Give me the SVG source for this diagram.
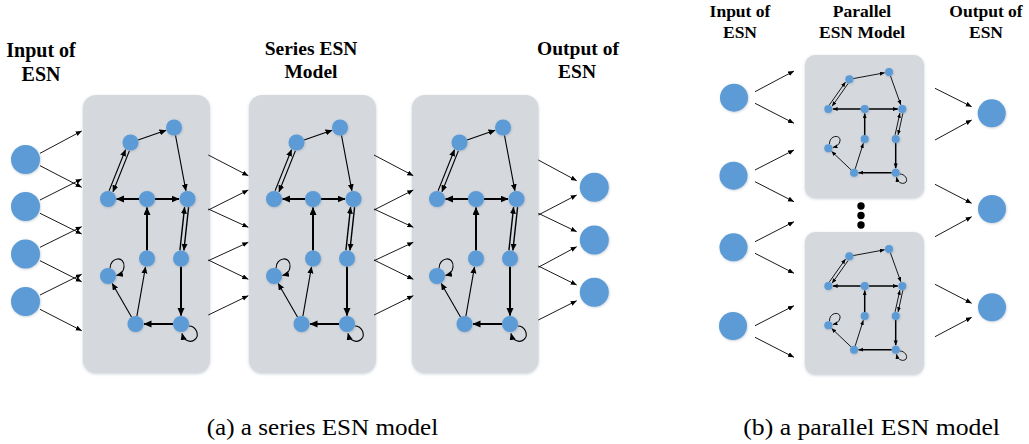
<svg xmlns="http://www.w3.org/2000/svg" width="1029" height="444" viewBox="0 0 1029 444">
<style>
.box{fill:#d5d9de;filter:url(#bs)}
.n circle{fill:#5b9bd5;filter:url(#ns)}
.io{fill:#5b9bd5;filter:url(#ns)}
.th{stroke:#000;stroke-width:1.1;fill:none;marker-end:url(#at)}
.tk{stroke:#000;stroke-width:2;fill:none;marker-end:url(#ak)}
.md{stroke:#000;stroke-width:1.4;fill:none;marker-end:url(#at)}
.pth{stroke:#000;stroke-width:0.9;fill:none;marker-end:url(#ap)}
.ptk{stroke:#000;stroke-width:1.5;fill:none;marker-end:url(#ap)}
.lk{stroke:#000;stroke-width:0.9;fill:none;marker-end:url(#al)}
.hd{font-weight:bold;text-anchor:middle;fill:#000}
.cap{font-size:22.5px;fill:#000}
</style>
<defs>
<filter id="bs" x="-10%" y="-10%" width="120%" height="120%"><feDropShadow dx="0" dy="1" stdDeviation="1.5" flood-color="#8e9bb0" flood-opacity="0.45"/></filter>
<filter id="ns" x="-40%" y="-40%" width="180%" height="180%"><feDropShadow dx="0.6" dy="0.8" stdDeviation="0.8" flood-color="#6d7f95" flood-opacity="0.4"/></filter>
<marker id="at" markerUnits="userSpaceOnUse" markerWidth="8" markerHeight="7" refX="6.5" refY="3" orient="auto"><path d="M0,0 L7,3 L0,6 z" fill="#000"/></marker>
<marker id="ak" markerUnits="userSpaceOnUse" markerWidth="9" markerHeight="8" refX="7.5" refY="3.5" orient="auto"><path d="M0,0 L8,3.5 L0,7 z" fill="#000"/></marker>
<marker id="ap" markerUnits="userSpaceOnUse" markerWidth="6" markerHeight="5" refX="4.8" refY="2" orient="auto"><path d="M0,0 L5,2 L0,4 z" fill="#000"/></marker>
<marker id="al" markerUnits="userSpaceOnUse" markerWidth="7" markerHeight="6" refX="6" refY="2.5" orient="auto"><path d="M0,0 L6,2.5 L0,5 z" fill="#000"/></marker>
</defs>
<rect width="1029" height="444" fill="#fff"/>

<!-- headings -->
<g id="headings" font-family="Liberation Serif, Times New Roman, DejaVu Serif, serif">
<text class="hd" font-size="20" x="41" y="57">Input of</text>
<text class="hd" font-size="20" x="41" y="80.5">ESN</text>
<text class="hd" font-size="19.5" x="311" y="55">Series ESN</text>
<text class="hd" font-size="19.5" x="311" y="78.3">Model</text>
<text class="hd" font-size="19.5" x="578" y="55">Output of</text>
<text class="hd" font-size="19.5" x="577" y="78.3">ESN</text>
<text class="hd" font-size="17.5" x="740" y="16.7">Input of</text>
<text class="hd" font-size="17.5" x="740" y="37.5">ESN</text>
<text class="hd" font-size="17.5" x="862" y="16.7">Parallel</text>
<text class="hd" font-size="17.5" x="862" y="37.5">ESN Model</text>
<text class="hd" font-size="17.5" x="986" y="16.7">Output of</text>
<text class="hd" font-size="17.5" x="986" y="37.5">ESN</text>
</g>

<!-- series reservoirs -->
<g id="series-res-1" transform="translate(83,95)">
<rect class="box" width="127" height="278" rx="13"/>
<g id="s1-connectors">
<path class="th" d="M55.1,44.9 L83,35.3"/><path class="th" d="M92.5,40.4 L102.9,95.7"/>
<path class="th" d="M26.1,95.8 L42.5,54.7"/><path class="th" d="M46.4,55.7 L30,96.8"/>
<path class="tk" d="M56,104 L33.5,104"/><path class="tk" d="M72,104 L96,104"/>
<path class="tk" d="M64,155.5 L64,112.5"/>
<path class="md" d="M96.9,155.3 L101.6,112.2"/><path class="md" d="M105.6,112.2 L100.9,155.3"/>
<path class="tk" d="M98,171.5 L98,220.5"/><path class="tk" d="M90,229 L61,229"/>
<path class="th" d="M48.5,222.1 L29.2,188.4"/><path class="th" d="M53.9,221.1 L62.5,171.9"/>
<path class="th" d="M27,173.5 C27,162 42,160 41,172 C40.5,177 37.5,179.5 33.5,180.5"/>
<path class="th" d="M105.8,231 C113,231 117,240 112,244.5 C108,248 101,246.5 99,238.5"/>
</g>
<g id="s1-A" class="n"><circle cx="47.5" cy="47.5" r="8"/></g>
<g id="s1-B" class="n"><circle cx="91" cy="32.5" r="8"/></g>
<g id="s1-C" class="n"><circle cx="25" cy="104" r="8"/></g>
<g id="s1-D" class="n"><circle cx="64" cy="104" r="8"/></g>
<g id="s1-E" class="n"><circle cx="104.5" cy="104" r="8"/></g>
<g id="s1-F" class="n"><circle cx="64" cy="163.5" r="8"/></g>
<g id="s1-G" class="n"><circle cx="98" cy="163.5" r="8"/></g>
<g id="s1-H" class="n"><circle cx="25" cy="181" r="8"/></g>
<g id="s1-I" class="n"><circle cx="52.5" cy="229" r="8"/></g>
<g id="s1-J" class="n"><circle cx="98" cy="229" r="8"/></g>
</g>

<g id="series-res-2" transform="translate(249,95)">
<rect class="box" width="127" height="278" rx="13"/>
<g id="s2-connectors">
<path class="th" d="M55.1,44.9 L83,35.3"/><path class="th" d="M92.5,40.4 L102.9,95.7"/>
<path class="th" d="M26.1,95.8 L42.5,54.7"/><path class="th" d="M46.4,55.7 L30,96.8"/>
<path class="tk" d="M56,104 L33.5,104"/><path class="tk" d="M72,104 L96,104"/>
<path class="tk" d="M64,155.5 L64,112.5"/>
<path class="md" d="M96.9,155.3 L101.6,112.2"/><path class="md" d="M105.6,112.2 L100.9,155.3"/>
<path class="tk" d="M98,171.5 L98,220.5"/><path class="tk" d="M90,229 L61,229"/>
<path class="th" d="M48.5,222.1 L29.2,188.4"/><path class="th" d="M53.9,221.1 L62.5,171.9"/>
<path class="th" d="M27,173.5 C27,162 42,160 41,172 C40.5,177 37.5,179.5 33.5,180.5"/>
<path class="th" d="M105.8,231 C113,231 117,240 112,244.5 C108,248 101,246.5 99,238.5"/>
</g>
<g id="s2-A" class="n"><circle cx="47.5" cy="47.5" r="8"/></g>
<g id="s2-B" class="n"><circle cx="91" cy="32.5" r="8"/></g>
<g id="s2-C" class="n"><circle cx="25" cy="104" r="8"/></g>
<g id="s2-D" class="n"><circle cx="64" cy="104" r="8"/></g>
<g id="s2-E" class="n"><circle cx="104.5" cy="104" r="8"/></g>
<g id="s2-F" class="n"><circle cx="64" cy="163.5" r="8"/></g>
<g id="s2-G" class="n"><circle cx="98" cy="163.5" r="8"/></g>
<g id="s2-H" class="n"><circle cx="25" cy="181" r="8"/></g>
<g id="s2-I" class="n"><circle cx="52.5" cy="229" r="8"/></g>
<g id="s2-J" class="n"><circle cx="98" cy="229" r="8"/></g>
</g>

<g id="series-res-3" transform="translate(412,95)">
<rect class="box" width="126.5" height="278" rx="13"/>
<g id="s3-connectors">
<path class="th" d="M55.1,44.9 L83,35.3"/><path class="th" d="M92.5,40.4 L102.9,95.7"/>
<path class="th" d="M26.1,95.8 L42.5,54.7"/><path class="th" d="M46.4,55.7 L30,96.8"/>
<path class="tk" d="M56,104 L33.5,104"/><path class="tk" d="M72,104 L96,104"/>
<path class="tk" d="M64,155.5 L64,112.5"/>
<path class="md" d="M96.9,155.3 L101.6,112.2"/><path class="md" d="M105.6,112.2 L100.9,155.3"/>
<path class="tk" d="M98,171.5 L98,220.5"/><path class="tk" d="M90,229 L61,229"/>
<path class="th" d="M48.5,222.1 L29.2,188.4"/><path class="th" d="M53.9,221.1 L62.5,171.9"/>
<path class="th" d="M27,173.5 C27,162 42,160 41,172 C40.5,177 37.5,179.5 33.5,180.5"/>
<path class="th" d="M105.8,231 C113,231 117,240 112,244.5 C108,248 101,246.5 99,238.5"/>
</g>
<g id="s3-A" class="n"><circle cx="47.5" cy="47.5" r="8"/></g>
<g id="s3-B" class="n"><circle cx="91" cy="32.5" r="8"/></g>
<g id="s3-C" class="n"><circle cx="25" cy="104" r="8"/></g>
<g id="s3-D" class="n"><circle cx="64" cy="104" r="8"/></g>
<g id="s3-E" class="n"><circle cx="104.5" cy="104" r="8"/></g>
<g id="s3-F" class="n"><circle cx="64" cy="163.5" r="8"/></g>
<g id="s3-G" class="n"><circle cx="98" cy="163.5" r="8"/></g>
<g id="s3-H" class="n"><circle cx="25" cy="181" r="8"/></g>
<g id="s3-I" class="n"><circle cx="52.5" cy="229" r="8"/></g>
<g id="s3-J" class="n"><circle cx="98" cy="229" r="8"/></g>
</g>

<!-- parallel reservoirs -->
<g id="parallel-res-1" transform="translate(805,55)">
<rect class="box" width="119" height="143" rx="10"/>
<g id="p1-connectors">
<path class="pth" d="M48.2,23.6 L79.6,17.8"/><path class="pth" d="M85.4,20.8 L95.8,49.8"/>
<path class="pth" d="M24.4,49.9 L40.5,27.1"/><path class="pth" d="M43.2,28.4 L27.1,51.2"/>
<path class="ptk" d="M55.7,54 L27.8,54"/><path class="ptk" d="M63.7,54 L92.8,54"/>
<path class="ptk" d="M59.7,80 L59.7,58.5"/>
<path class="pth" d="M90.1,79.8 L94.9,58.1"/><path class="pth" d="M97.9,58.2 L93.1,79.9"/>
<path class="ptk" d="M90.7,88 L90.7,113.2"/><path class="ptk" d="M86.7,117.7 L53.5,117.7"/>
<path class="pth" d="M46.1,114.9 L26.6,96.4"/><path class="pth" d="M50.2,113.9 L58.3,88.3"/>
<path class="pth" d="M24.5,89.3 C24,80 36,79 35,86 C34.5,89 32,91.5 27.8,92.5"/>
<path class="pth" d="M94.6,119 C100,119 103,124 101,127 C99,129.5 93,129 91.5,122.2"/>
</g>
<g id="p1-A" class="n"><circle cx="44.3" cy="24.3" r="4"/></g>
<g id="p1-B" class="n"><circle cx="84" cy="17" r="4"/></g>
<g id="p1-C" class="n"><circle cx="23.3" cy="54" r="4"/></g>
<g id="p1-D" class="n"><circle cx="59.7" cy="54" r="4"/></g>
<g id="p1-E" class="n"><circle cx="97.3" cy="54" r="4"/></g>
<g id="p1-F" class="n"><circle cx="59.7" cy="84" r="4"/></g>
<g id="p1-G" class="n"><circle cx="90.7" cy="84" r="4"/></g>
<g id="p1-H" class="n"><circle cx="23.3" cy="93.3" r="4"/></g>
<g id="p1-I" class="n"><circle cx="49" cy="117.7" r="4"/></g>
<g id="p1-J" class="n"><circle cx="90.7" cy="117.7" r="4"/></g>
</g>

<g id="parallel-res-2" transform="translate(805,232)">
<rect class="box" width="119" height="142.5" rx="10"/>
<g id="p2-connectors">
<path class="pth" d="M48.2,23.6 L79.6,17.8"/><path class="pth" d="M85.4,20.8 L95.8,49.8"/>
<path class="pth" d="M24.4,49.9 L40.5,27.1"/><path class="pth" d="M43.2,28.4 L27.1,51.2"/>
<path class="ptk" d="M55.7,54 L27.8,54"/><path class="ptk" d="M63.7,54 L92.8,54"/>
<path class="ptk" d="M59.7,80 L59.7,58.5"/>
<path class="pth" d="M90.1,79.8 L94.9,58.1"/><path class="pth" d="M97.9,58.2 L93.1,79.9"/>
<path class="ptk" d="M90.7,88 L90.7,113.2"/><path class="ptk" d="M86.7,117.7 L53.5,117.7"/>
<path class="pth" d="M46.1,114.9 L26.6,96.4"/><path class="pth" d="M50.2,113.9 L58.3,88.3"/>
<path class="pth" d="M24.5,89.3 C24,80 36,79 35,86 C34.5,89 32,91.5 27.8,92.5"/>
<path class="pth" d="M94.6,119 C100,119 103,124 101,127 C99,129.5 93,129 91.5,122.2"/>
</g>
<g id="p2-A" class="n"><circle cx="44.3" cy="24.3" r="4"/></g>
<g id="p2-B" class="n"><circle cx="84" cy="17" r="4"/></g>
<g id="p2-C" class="n"><circle cx="23.3" cy="54" r="4"/></g>
<g id="p2-D" class="n"><circle cx="59.7" cy="54" r="4"/></g>
<g id="p2-E" class="n"><circle cx="97.3" cy="54" r="4"/></g>
<g id="p2-F" class="n"><circle cx="59.7" cy="84" r="4"/></g>
<g id="p2-G" class="n"><circle cx="90.7" cy="84" r="4"/></g>
<g id="p2-H" class="n"><circle cx="23.3" cy="93.3" r="4"/></g>
<g id="p2-I" class="n"><circle cx="49" cy="117.7" r="4"/></g>
<g id="p2-J" class="n"><circle cx="90.7" cy="117.7" r="4"/></g>
</g>

<!-- input / output nodes -->
<g id="s-in1"><circle class="io" cx="25.5" cy="159.5" r="14.5"/></g>
<g id="s-in2"><circle class="io" cx="25.5" cy="206.5" r="14.5"/></g>
<g id="s-in3"><circle class="io" cx="25.5" cy="254" r="14.5"/></g>
<g id="s-in4"><circle class="io" cx="25.5" cy="301.5" r="14.5"/></g>
<g id="s-out1"><circle class="io" cx="594.3" cy="187.3" r="14.5"/></g>
<g id="s-out2"><circle class="io" cx="594.3" cy="240" r="14.5"/></g>
<g id="s-out3"><circle class="io" cx="594.3" cy="292.3" r="14.5"/></g>
<g id="p-in1"><circle class="io" cx="734" cy="97.7" r="14"/></g>
<g id="p-in2"><circle class="io" cx="733.5" cy="175.7" r="14"/></g>
<g id="p-in3"><circle class="io" cx="733.5" cy="247.3" r="14"/></g>
<g id="p-in4"><circle class="io" cx="733" cy="326" r="14"/></g>
<g id="p-out1"><circle class="io" cx="991.7" cy="113.3" r="14"/></g>
<g id="p-out2"><circle class="io" cx="992" cy="209" r="14"/></g>
<g id="p-out3"><circle class="io" cx="992" cy="307.3" r="14"/></g>
<g id="ellipsis" fill="#000">
<circle cx="861" cy="206" r="3.7"/><circle cx="861" cy="215.5" r="3.7"/><circle cx="861" cy="225" r="3.7"/>
</g>

<!-- layer connectors -->
<g id="connectors">
<path class="lk" d="M40,153.3 L81.7,131"/><path class="lk" d="M40,165.7 L81.7,187.3"/>
<path class="lk" d="M40,200 L81.7,179"/><path class="lk" d="M40,213.3 L81.7,234"/>
<path class="lk" d="M40,247.3 L81.7,226.7"/><path class="lk" d="M40,260.7 L81.7,281.7"/>
<path class="lk" d="M40,295 L81.7,274.3"/><path class="lk" d="M40,309.3 L81.7,330.7"/>

<path class="lk" d="M208.3,155 L248.3,175.7"/><path class="lk" d="M208.3,210 L248.3,190"/>
<path class="lk" d="M208.3,209 L248.3,227.3"/><path class="lk" d="M208.3,260.7 L248.3,242.3"/>
<path class="lk" d="M208.3,260 L248.3,279.3"/><path class="lk" d="M208.3,315 L248.3,295.7"/>

<path class="lk" d="M374,155 L413.3,175.7"/><path class="lk" d="M374,210 L413.3,190"/>
<path class="lk" d="M374,209 L413.3,227.3"/><path class="lk" d="M374,260.7 L413.3,242.3"/>
<path class="lk" d="M374,260 L413.3,279.3"/><path class="lk" d="M374,315 L413.3,295.7"/>

<path class="lk" d="M538.3,160 L576.7,180.7"/><path class="lk" d="M538.3,215 L576.7,195"/>
<path class="lk" d="M538.3,213.3 L576.7,231.7"/><path class="lk" d="M538.3,267.3 L576.7,246.7"/>
<path class="lk" d="M538.3,266 L576.7,285"/><path class="lk" d="M538.3,320 L576.7,300.7"/>

<path class="lk" d="M755,91.7 L794,71"/><path class="lk" d="M755,103.3 L794,123.3"/>
<path class="lk" d="M755,170 L794,150"/><path class="lk" d="M755,181.7 L794,201.7"/>
<path class="lk" d="M755,241.7 L794,221.7"/><path class="lk" d="M755,253.3 L794,273.3"/>
<path class="lk" d="M755,325.7 L794,305.7"/><path class="lk" d="M755,337.3 L794,357.3"/>

<path class="lk" d="M935,88.3 L971.7,106.7"/><path class="lk" d="M935,140 L971.7,120"/>
<path class="lk" d="M935,184.3 L971.7,203.3"/><path class="lk" d="M935,236.7 L971.7,216.7"/>
<path class="lk" d="M935,284.3 L971.7,303.3"/><path class="lk" d="M935,336.7 L971.7,317.3"/>
</g>

<!-- captions -->
<g id="captions" font-family="Liberation Serif, Times New Roman, DejaVu Serif, serif">
<text class="cap" x="206.7" y="434.5" textLength="231.5" lengthAdjust="spacingAndGlyphs">(a)  a series ESN model</text>
<text class="cap" x="743.3" y="434.5" textLength="256.7" lengthAdjust="spacingAndGlyphs">(b)  a parallel ESN model</text>
</g>
</svg>
